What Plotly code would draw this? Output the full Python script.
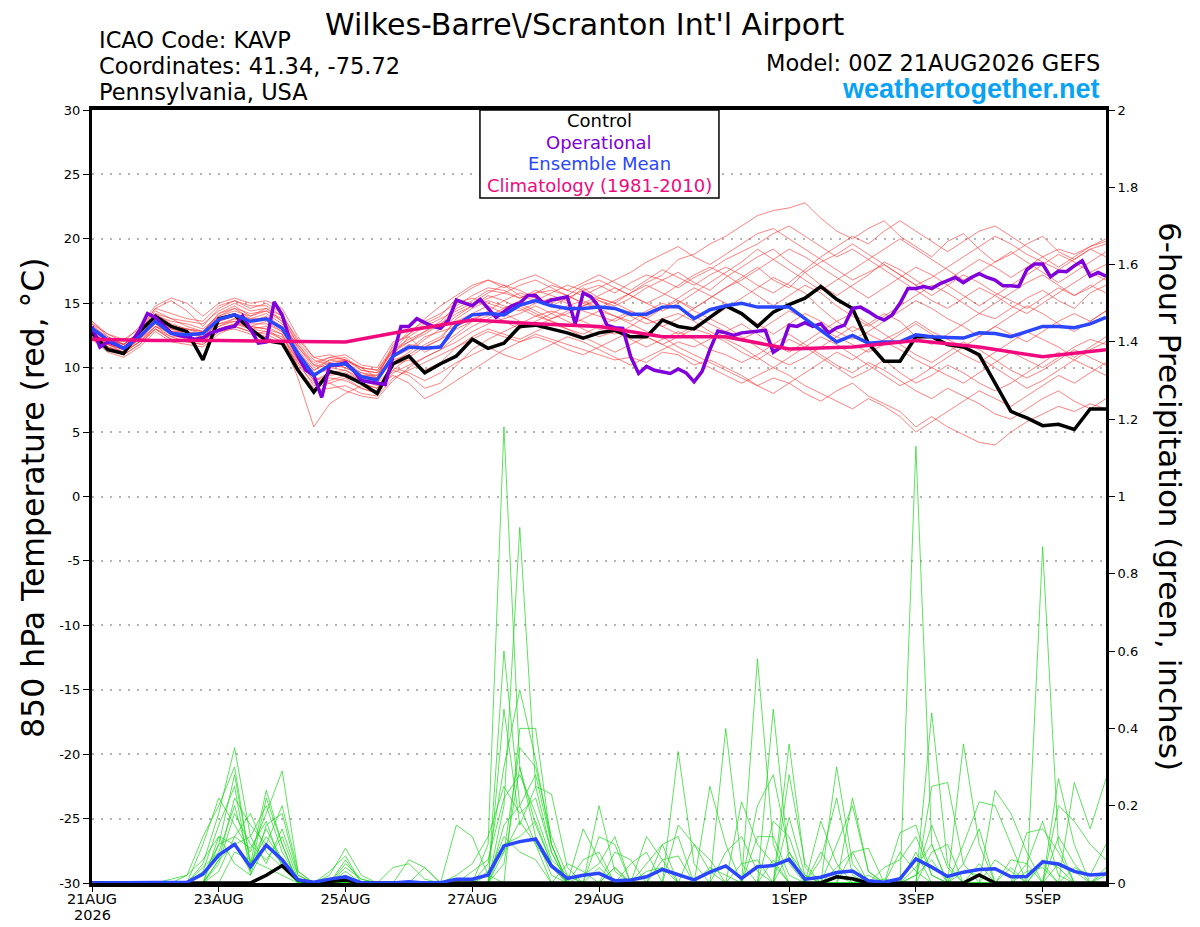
import pandas as pd
import plotly.graph_objects as go

# time axes of the GEFS run (00Z 21AUG2026, 384 h)
times_6h = pd.date_range("2026-08-21 00:00", periods=65, freq="6h")
times_3h = pd.date_range("2026-08-21 00:00", periods=129, freq="3h")
clim_days = pd.date_range("2026-08-21", periods=17, freq="D")

x_tick_dates = ["2026-08-21", "2026-08-23", "2026-08-25", "2026-08-27",
                "2026-08-29", "2026-09-01", "2026-09-03", "2026-09-05"]
x_tick_labels = ["21AUG", "23AUG", "25AUG", "27AUG",
                 "29AUG", "1SEP", "3SEP", "5SEP"]
temp_ticks = [-30, -25, -20, -15, -10, -5, 0, 5, 10, 15, 20, 25, 30]
precip_ticks = [0, 0.2, 0.4, 0.6, 0.8, 1, 1.2, 1.4, 1.6, 1.8, 2]

# 850 hPa temperature (C)
control_temp = [12.7, 11.4, 11.1, 12.8, 14.0, 13.2, 12.8, 10.6, 13.8, 14.1, 13.0, 12.1, 11.9,
                9.8, 8.1, 9.7, 9.4, 8.8, 8.0, 10.3, 10.9,
                9.6, 10.3, 10.9, 12.2, 11.5, 11.9, 13.2, 13.3, 13.0, 12.7, 12.3, 12.7, 12.9,
                12.4, 12.4, 13.7, 13.2, 13.0, 13.9, 14.8, 14.2, 13.2,
                14.3, 14.9, 15.4, 16.3, 15.3, 14.6, 11.9, 10.5, 10.5, 12.4, 12.4, 11.8,
                11.6, 11.0, 8.8, 6.6, 6.1, 5.5, 5.6, 5.2, 6.8, 6.8]

mean_temp = [13.05, 12.15, 11.5, 12.4, 13.6, 12.65, 12.55, 12.65, 13.75, 14.1, 13.6, 13.8, 13.05,
             11.1, 9.4, 10.2, 10.3, 9.3, 9.05, 10.9, 11.6, 11.5,
             11.6, 13.3, 14.1, 14.2, 14.1, 14.85, 15.2, 14.8, 14.6, 14.6, 14.7, 14.6, 14.15,
             14.15, 14.7, 14.75, 13.8, 14.5, 14.8, 15.0, 14.7,
             14.7, 14.7, 13.8, 12.9, 12.0, 12.5, 11.9, 12.0, 12.0, 12.55, 12.4, 12.35,
             12.3, 12.7, 12.65, 12.4, 12.8, 13.2, 13.2, 13.1, 13.4, 13.9]

# operational run has 3-hourly output
oper_temp = [13.2, 11.6, 12.0, 11.8, 11.5, 12.0, 12.9, 14.2, 13.9, 13.3,
             12.7, 12.5, 12.4, 12.2, 12.3, 12.7, 12.9, 13.1, 13.2, 14.0,
             13.0, 11.9, 12.0, 15.1, 14.1, 12.1, 10.9, 9.8, 9.4, 7.7,
             10.2, 10.2, 10.4, 9.8, 9.0, 8.9, 8.8, 8.7, 10.9, 13.2,
             13.2, 13.8, 13.5,
             13.2, 13.05, 13.7, 15.25, 15.0, 14.8, 15.3, 14.6, 13.9, 14.35,
             14.8, 15.0, 15.6, 15.6, 15.0, 15.25, 15.4, 15.5, 13.4, 15.8,
             15.5, 14.7, 13.3, 13.1, 13.05, 10.85, 9.55, 10.1, 9.8, 9.7,
             9.55, 9.9, 9.6, 8.9, 9.7, 11.4, 12.85, 12.7, 12.5, 12.7,
             12.75, 12.85, 12.9,
             11.2, 11.6, 13.3, 13.2, 13.5, 13.2, 13.4, 12.7, 13.1, 13.3,
             14.6, 14.7, 14.35, 13.95, 13.7, 14.1, 15.0, 16.15, 16.15, 16.3,
             16.15, 16.5, 16.75, 17.0, 16.6, 17.0, 17.3, 17.0, 16.8, 16.35,
             16.35, 16.3, 17.6, 18.05, 18.05, 17.05, 17.5, 17.45, 17.9, 18.3,
             17.1, 17.4, 17.1]

clim_temp = [12.2, 12.1, 12.1, 12.05, 12.0, 12.9, 13.7, 13.4, 13.2, 12.4, 12.4,
             11.45, 11.6, 12.1, 11.6, 10.85, 11.4]

# ensemble members, 850 hPa temperature
ens_t01 = [13.2, 12.0, 11.6, 12.6, 14.2, 13.4, 13.0, 12.8, 14.2, 14.8, 14.0, 14.4, 13.6,
           11.4, 9.8, 10.6, 10.8, 9.8, 9.6, 11.4, 12.2, 12.8, 13.4, 14.6, 15.2,
           16.0, 15.8, 15.4, 16.0, 15.6, 15.2, 16.2, 15.4, 15.0, 15.8, 16.6, 17.2, 18.4, 18.8, 19.6, 20.2,
           21.0, 21.8, 22.2, 22.4, 22.8, 21.6, 20.6, 20.0, 20.8, 21.4, 20.2, 19.4,
           18.6, 19.8, 20.4, 19.2, 18.2, 18.8, 19.6, 20.2, 19.0, 18.4, 19.2, 19.6]
ens_t02 = [12.4, 11.4, 11.0, 11.8, 13.0, 12.2, 12.2, 12.0, 13.2, 13.6, 13.0, 13.2, 12.6,
           10.0, 8.4, 8.8, 9.2, 8.4, 8.0, 10.2, 10.6, 9.8, 10.4, 11.6, 12.2,
           12.8, 12.4, 12.0, 12.6, 12.2, 11.8, 11.4, 11.0, 10.6, 10.8, 10.4, 11.2, 11.0, 10.2, 10.6, 10.0,
           9.4, 8.6, 9.2, 8.8, 8.0, 7.4, 8.2, 8.8, 7.8, 7.2, 6.6, 5.4,
           6.2, 5.4, 4.8, 4.2, 4.0, 5.0, 5.8, 6.4, 7.0, 6.6, 7.2, 6.8]
ens_t03 = [12.8, 11.8, 11.4, 12.2, 13.6, 13.0, 12.6, 12.4, 13.4, 13.8, 13.2, 13.0, 12.2,
           9.2, 5.4, 7.2, 8.0, 8.6, 8.2, 9.8, 9.4, 8.4, 8.8, 10.2, 11.4,
           12.2, 12.8, 13.4, 14.0, 14.4, 14.0, 13.6, 13.0, 12.6, 13.2, 14.0, 14.6, 15.2, 14.4, 13.8, 14.6,
           15.4, 16.2, 17.0, 16.4, 15.8, 14.6, 13.6, 12.8, 13.4, 14.2, 13.6, 12.4,
           11.8, 12.6, 13.4, 14.2, 13.8, 14.6, 15.4, 16.0, 15.2, 14.6, 15.8, 16.4]
ens_t04 = [13.6, 12.4, 11.8, 12.8, 14.6, 15.2, 14.4, 13.2, 14.6, 15.2, 14.6, 15.0, 14.2,
           12.0, 10.6, 10.2, 10.0, 9.4, 9.2, 11.8, 12.6, 13.4, 14.0, 15.4, 16.2,
           16.8, 16.4, 15.6, 15.2, 15.8, 16.4, 16.0, 15.2, 14.8, 15.4, 16.2, 16.8, 17.4, 16.6, 16.0, 17.0,
           17.8, 18.6, 19.2, 18.2, 17.4, 16.4, 15.6, 16.4, 17.2, 18.2, 17.6, 16.8,
           16.0, 16.8, 17.6, 18.4, 17.8, 17.0, 17.8, 18.6, 19.2, 18.8, 19.4, 19.8]
ens_t05 = [12.6, 11.6, 11.2, 12.0, 13.2, 12.4, 12.4, 12.2, 13.0, 13.4, 13.2, 13.6, 12.8,
           10.6, 9.0, 9.6, 9.8, 9.0, 8.6, 9.4, 8.8, 7.6, 8.2, 9.0, 9.8,
           10.6, 11.4, 12.0, 12.4, 12.0, 11.4, 11.0, 11.6, 12.2, 12.8, 12.4, 11.8, 12.4, 13.0, 12.6, 12.0,
           11.2, 10.6, 11.4, 12.2, 11.6, 10.8, 10.0, 9.2, 9.8, 10.6, 9.6, 8.8,
           9.4, 10.2, 9.6, 8.8, 8.2, 8.8, 9.6, 10.4, 11.2, 10.6, 11.4, 12.0]
ens_t06 = [13.0, 12.2, 11.8, 12.6, 13.8, 13.0, 12.8, 12.6, 13.8, 14.2, 13.8, 14.2, 13.4,
           11.6, 10.0, 10.6, 10.4, 9.6, 9.4, 11.0, 11.8, 11.6, 12.2, 13.8, 14.6,
           15.2, 14.8, 14.4, 15.0, 15.4, 15.0, 14.4, 14.0, 13.6, 14.2, 13.8, 13.2, 13.8, 14.6, 15.4, 16.2,
           17.0, 17.8, 16.8, 16.2, 17.4, 18.2, 18.8, 19.6, 18.8, 18.0, 17.2, 16.4,
           17.0, 17.8, 18.6, 19.4, 20.2, 19.6, 18.8, 18.2, 17.6, 18.4, 19.2, 18.6]
ens_t07 = [12.2, 11.2, 10.8, 11.6, 12.8, 12.0, 11.8, 11.6, 12.6, 13.2, 12.8, 12.6, 12.0,
           10.4, 9.2, 8.8, 8.2, 7.8, 7.6, 9.0, 10.0, 10.8, 11.4, 12.0, 12.8,
           13.4, 13.8, 14.2, 14.8, 14.2, 13.6, 13.0, 12.4, 12.8, 12.2, 11.6, 12.2, 12.8, 12.2, 11.4, 11.0,
           10.4, 11.0, 11.8, 12.6, 11.8, 11.0, 10.2, 9.6, 10.4, 9.8, 9.0, 8.2,
           7.6, 8.4, 7.8, 7.2, 6.4, 6.0, 6.8, 7.6, 8.2, 7.4, 6.8, 7.6]
ens_t08 = [13.4, 12.6, 12.0, 13.2, 14.8, 15.4, 15.0, 14.0, 15.0, 15.4, 15.0, 15.2, 14.6,
           12.4, 10.8, 11.0, 10.6, 10.0, 9.8, 11.6, 12.8, 13.6, 14.2, 15.0, 15.4,
           15.0, 14.6, 15.2, 15.8, 16.0, 15.6, 15.0, 15.6, 16.2, 15.6, 15.0, 15.6, 16.4, 17.2, 17.8, 17.2,
           16.4, 15.6, 14.8, 15.6, 16.4, 15.8, 14.8, 14.0, 13.2, 14.0, 14.8, 15.6,
           16.4, 15.8, 15.0, 14.2, 15.0, 15.8, 16.6, 17.2, 16.4, 15.6, 16.2, 17.0]
ens_t09 = [12.8, 12.0, 11.6, 12.4, 13.4, 12.8, 12.6, 12.4, 13.6, 14.0, 13.4, 13.4, 12.8,
           11.0, 9.6, 9.8, 9.4, 8.8, 8.4, 10.4, 11.2, 12.2, 13.0, 14.0, 14.8,
           15.6, 15.2, 14.6, 14.0, 13.6, 13.2, 13.8, 14.4, 14.0, 13.4, 12.8, 12.4, 11.6, 11.0, 10.4, 9.8,
           9.2, 8.6, 8.0, 8.8, 9.6, 10.4, 11.2, 10.6, 11.4, 12.2, 12.8, 13.6,
           12.8, 12.2, 11.6, 12.4, 13.2, 12.6, 12.0, 12.8, 13.6, 14.2, 13.6, 14.4]
ens_t10 = [13.2, 12.4, 11.8, 12.8, 14.0, 13.6, 13.4, 13.0, 14.0, 14.6, 14.2, 14.4, 13.8,
           11.8, 10.4, 10.8, 11.0, 10.2, 10.0, 12.0, 12.4, 11.2, 11.8, 12.6, 13.6,
           14.4, 15.2, 15.8, 15.4, 14.8, 15.4, 16.0, 16.4, 15.8, 16.6, 17.2, 16.8, 16.2, 17.0, 17.6, 18.4,
           19.0, 19.6, 20.4, 21.0, 20.2, 19.4, 18.6, 19.2, 18.4, 17.6, 16.8, 16.0,
           15.2, 14.6, 15.4, 16.2, 15.6, 14.8, 14.2, 15.0, 15.8, 16.6, 17.4, 18.0]
ens_t11 = [12.6, 11.8, 11.2, 12.2, 13.4, 12.6, 12.2, 12.0, 13.2, 13.8, 13.6, 14.0, 13.2,
           10.8, 9.4, 10.2, 10.6, 10.0, 9.2, 10.8, 11.4, 12.4, 12.8, 13.2, 13.8,
           14.2, 13.6, 13.0, 13.6, 14.2, 14.8, 15.2, 14.6, 14.0, 13.6, 14.4, 15.0, 14.6, 14.0, 13.4, 12.8,
           12.2, 12.8, 13.6, 14.4, 13.8, 13.0, 12.4, 11.8, 11.2, 11.8, 12.6, 13.4,
           12.6, 11.8, 11.0, 10.4, 11.2, 12.0, 12.8, 12.2, 11.6, 10.8, 11.6, 12.4]
ens_t12 = [13.0, 12.0, 11.6, 12.4, 14.0, 13.2, 13.0, 12.8, 14.2, 14.6, 13.8, 13.8, 13.0,
           11.2, 9.8, 10.4, 10.6, 9.8, 9.6, 11.2, 12.0, 12.8, 13.6, 14.8, 15.6,
           16.2, 16.0, 15.4, 15.8, 16.4, 16.0, 15.6, 16.2, 16.8, 17.4, 18.2, 18.8, 19.4, 18.6, 18.0, 18.8,
           19.6, 20.4, 20.8, 20.0, 19.2, 18.4, 17.6, 16.8, 17.4, 18.0, 17.2, 16.4,
           15.6, 16.4, 17.2, 16.6, 15.8, 15.2, 14.6, 15.4, 16.2, 15.6, 16.4, 15.8]
ens_t13 = [12.4, 11.6, 11.2, 12.0, 13.2, 12.6, 12.4, 12.0, 13.0, 13.4, 13.0, 12.8, 12.2,
           10.2, 8.8, 9.2, 9.0, 8.4, 8.0, 9.6, 10.2, 10.8, 11.4, 12.4, 13.2,
           13.8, 14.4, 14.8, 14.2, 13.6, 13.0, 12.4, 11.8, 11.2, 11.8, 12.4, 11.8, 11.2, 10.6, 10.0, 9.4,
           8.8, 9.4, 10.0, 9.4, 8.6, 8.0, 7.4, 6.8, 7.6, 7.0, 6.2, 5.0,
           5.8, 6.6, 7.4, 8.2, 7.6, 7.0, 7.8, 8.6, 9.4, 8.8, 9.6, 10.4]
ens_t14 = [13.4, 12.2, 11.8, 12.8, 14.4, 13.8, 13.6, 13.4, 14.4, 15.0, 14.4, 14.6, 13.6,
           11.6, 10.2, 10.0, 9.8, 9.2, 9.0, 10.6, 11.0, 11.8, 12.4, 13.6, 14.2,
           14.8, 14.2, 13.6, 13.2, 13.8, 14.4, 14.8, 15.4, 15.0, 14.4, 13.8, 14.6, 15.4, 16.2, 15.6, 15.0,
           14.2, 13.4, 12.6, 13.4, 14.2, 13.6, 12.8, 12.2, 12.8, 13.6, 14.4, 15.2,
           14.6, 13.8, 13.2, 12.4, 13.2, 14.0, 14.8, 14.2, 13.4, 12.8, 13.6, 14.4]
ens_t15 = [12.8, 11.8, 11.4, 12.2, 13.6, 13.2, 13.0, 12.6, 13.6, 14.0, 13.6, 13.8, 13.2,
           10.8, 9.4, 10.0, 10.2, 9.6, 9.2, 11.0, 12.4, 13.2, 13.8, 14.4, 15.0,
           15.8, 16.4, 16.0, 15.4, 15.0, 15.6, 16.4, 16.8, 16.2, 15.6, 15.0, 14.4, 15.0, 15.8, 16.6, 17.4,
           18.2, 19.2, 18.4, 17.6, 16.8, 16.0, 16.8, 17.6, 18.4, 19.2, 20.0, 19.2,
           18.4, 17.6, 16.8, 17.4, 18.2, 19.0, 18.2, 17.4, 16.6, 17.4, 18.2, 19.0]
ens_t16 = [12.2, 11.4, 11.0, 11.8, 13.0, 12.4, 12.0, 11.8, 12.8, 13.2, 12.8, 12.4, 11.8,
           9.8, 8.2, 8.4, 8.6, 8.0, 7.8, 9.2, 9.8, 10.4, 11.0, 11.6, 12.4,
           13.0, 12.6, 12.2, 12.8, 13.4, 13.0, 12.6, 13.2, 13.8, 14.4, 13.8, 13.2, 12.6, 13.2, 13.8, 13.2,
           12.4, 11.6, 10.8, 10.2, 10.8, 11.6, 12.4, 13.2, 12.6, 12.0, 11.4, 10.6,
           10.0, 9.4, 8.8, 9.6, 10.4, 11.2, 10.6, 10.0, 10.8, 11.6, 12.2, 11.8]
ens_t17 = [13.0, 12.2, 11.8, 12.6, 14.2, 13.8, 13.2, 12.8, 14.0, 14.4, 14.0, 14.6, 14.0,
           12.2, 10.8, 10.4, 10.0, 9.4, 9.4, 11.4, 12.6, 13.8, 14.8, 15.6, 16.4,
           16.8, 16.2, 16.8, 17.2, 16.6, 16.0, 16.6, 17.2, 16.6, 16.0, 16.8, 17.6, 17.0, 16.4, 17.2, 17.8,
           17.2, 16.4, 15.8, 16.6, 17.6, 18.6, 19.4, 20.2, 19.6, 20.6, 21.4, 20.6,
           19.8, 19.0, 19.8, 20.6, 21.0, 20.2, 19.4, 18.6, 17.8, 18.6, 19.4, 20.0]
ens_t18 = [12.6, 11.6, 11.2, 12.0, 13.0, 12.2, 12.0, 11.8, 12.8, 13.0, 12.6, 12.8, 12.4,
           10.6, 9.0, 9.4, 9.6, 9.0, 8.8, 10.0, 9.6, 9.0, 9.6, 10.4, 11.0,
           11.6, 11.0, 10.6, 11.2, 11.8, 12.4, 12.0, 11.4, 10.8, 10.2, 10.8, 11.4, 12.0, 11.6, 12.2, 12.8,
           13.4, 12.6, 11.8, 11.2, 12.0, 12.8, 13.6, 14.2, 13.4, 12.6, 11.8, 11.0,
           10.4, 11.2, 12.0, 11.4, 10.6, 9.8, 9.2, 9.8, 10.6, 11.4, 10.8, 10.2]
ens_t19 = [13.6, 12.6, 12.2, 13.0, 14.6, 14.2, 13.8, 13.6, 14.8, 15.2, 14.8, 14.8, 14.0,
           11.8, 10.2, 10.8, 10.6, 10.0, 9.8, 11.4, 12.0, 12.6, 13.4, 14.2, 14.8,
           15.4, 15.8, 16.4, 16.8, 16.2, 15.6, 15.0, 14.6, 15.2, 15.8, 16.4, 15.8, 15.2, 14.6, 15.4, 16.2,
           16.8, 17.6, 18.4, 19.2, 18.6, 17.8, 17.0, 16.2, 15.4, 16.2, 17.0, 17.8,
           17.2, 16.4, 15.6, 14.8, 15.6, 16.4, 17.2, 18.0, 18.8, 18.2, 17.4, 16.8]
ens_t20 = [12.4, 11.8, 11.4, 12.2, 13.2, 12.8, 12.8, 12.4, 13.4, 13.6, 13.2, 13.0, 12.6,
           10.4, 8.6, 9.0, 9.4, 8.8, 8.4, 9.8, 10.8, 11.6, 12.2, 13.0, 13.6,
           14.0, 14.6, 15.0, 14.4, 13.8, 14.2, 14.8, 15.2, 14.6, 14.0, 13.4, 13.8, 14.2, 13.6, 12.8, 12.2,
           11.6, 10.8, 10.0, 10.8, 11.6, 12.4, 11.8, 11.0, 10.2, 9.4, 8.6, 9.2,
           10.0, 10.8, 11.6, 10.8, 10.0, 9.2, 8.4, 9.0, 9.8, 10.6, 10.0, 9.4]

# 6-hour precipitation (inches)
control_precip = [0, 0, 0, 0, 0, 0, 0, 0, 0, 0, 0, 0.02, 0.045, 0.008, 0, 0.004, 0.008,
                  0, 0, 0, 0, 0, 0, 0, 0, 0, 0, 0, 0, 0, 0, 0, 0, 0, 0, 0, 0, 0, 0, 0,
                  0, 0, 0, 0, 0, 0, 0, 0.016, 0.011, 0, 0, 0, 0, 0, 0, 0, 0.021,
                  0, 0, 0, 0, 0, 0, 0, 0]
mean_precip = [0, 0, 0, 0, 0, 0, 0.002, 0.023, 0.072, 0.10, 0.042, 0.098, 0.06, 0.008,
               0.002, 0.01, 0.016, 0, 0, 0, 0.003, 0, 0.001, 0.01, 0.01, 0.021, 0.096,
               0.107, 0.114, 0.044, 0.012, 0.02, 0.025, 0.006, 0.008, 0.016, 0.035, 0.021,
               0.008, 0.028, 0.044, 0.012, 0.042, 0.045, 0.061, 0.01, 0.015, 0.027, 0.031,
               0.006, 0.002, 0.011, 0.062, 0.041, 0.017, 0.028, 0.035, 0.037, 0.016,
               0.017, 0.055, 0.049, 0.03, 0.021, 0.023]

# ensemble members, precipitation (one row per day, 00/06/12/18Z)
ens_p01 = [0, 0, 0, 0,  0, 0, 0, .05,  .18, .35, .12, .20,  .08, .01, 0, 0,
           .06, 0, 0, 0,  0, 0, 0, 0,  0, .10, 1.18, .30,  .15, .05, 0, 0,
           0, .04, 0, 0,  0, 0, 0, 0,  0, 0, .58, .10,  0, 0, 0, 0,
           0, 0, 0, 0,  .08, 0, 0, 0,  0, 0, 0, 0,  .05, 0, 0, 0,  0]
ens_p02 = [0, 0, 0, 0,  0, 0, 0, 0,  .10, .28, .05, .24,  .10, 0, 0, .02,
           .09, .02, 0, 0,  0, 0, 0, 0,  0, 0, .20, .92,  .25, .08, 0, 0,
           .20, .03, 0, 0,  0, 0, 0, 0,  0, 0, 0, .45,  .05, 0, 0, .30,
           .05, 0, 0, 0,  1.13, .10, 0, 0,  .05, 0, 0, 0,  0, .27, .10, 0,  0]
ens_p03 = [0, 0, 0, 0,  0, 0, 0, .10,  .22, .15, .08, .18,  .29, .03, 0, 0,
           0, 0, 0, 0,  .06, .04, 0, .15,  .12, .02, 0, .40,  .40, .10, 0, 0,
           0, 0, 0, 0,  0, .34, .05, 0,  0, 0, 0, 0,  .36, .04, 0, 0,
           0, 0, 0, 0,  0, .44, .05, 0,  0, 0, 0, 0,  .87, .10, 0, 0,  0]
ens_p04 = [0, 0, 0, 0,  0, 0, .02, .12,  .20, .30, .05, .12,  .06, 0, 0, 0,
           .03, 0, 0, 0,  0, 0, 0, 0,  0, 0, .45, .15,  .25, .23, .04, 0,
           0, 0, 0, .12,  .06, 0, 0, 0,  .40, .05, 0, 0,  0, 0, 0, 0,
           .22, .03, 0, 0,  0, 0, 0, .36,  .10, 0, 0, 0,  0, 0, .26, .14,  .27]
ens_p05 = [0, 0, 0, 0,  0, 0, 0, 0,  .06, .22, .15, .10,  .05, 0, 0, 0,
           .05, .01, 0, 0,  0, 0, 0, 0,  0, .05, .30, .50,  .32, .10, 0, .14,
           .06, 0, 0, 0,  0, 0, 0, .25,  .10, 0, 0, 0,  .28, .05, 0, 0,
           0, 0, 0, .13,  .15, .02, 0, 0,  0, .24, .18, .08,  0, 0, 0, 0,  .04]
ens_p06 = [0, 0, 0, 0,  0, 0, 0, .03,  .15, .25, .02, .15,  .18, .02, 0, 0,
           0, 0, 0, 0,  0, 0, 0, 0,  0, 0, .60, .20,  .10, 0, 0, 0,
           .12, .10, 0, 0,  .10, .12, 0, 0,  0, .21, .10, .05,  0, 0, .16, .05,
           0, 0, 0, 0,  0, .25, .26, .05,  0, 0, 0, .05,  .16, .02, 0, 0,  0]
ens_p07 = [0, 0, 0, 0,  0, .01, .02, .06,  .12, .10, .03, .22,  .10, 0, 0, 0,
           0, 0, 0, .04,  .05, .01, 0, 0,  0, .03, .08, .35,  .30, .12, .02, 0,
           0, 0, .05, .08,  0, 0, 0, 0,  0, 0, .20, .28,  .08, 0, 0, .10,
           .20, .03, 0, 0,  0, 0, 0, .10,  .21, .20, .10, 0,  0, .12, .05, 0,  0]
ens_p08 = [0, 0, 0, 0,  0, 0, 0, 0,  .05, .18, .10, .06,  .12, .01, 0, 0,
           .02, 0, 0, 0,  0, 0, 0, .02,  .05, .12, .25, .18,  .22, .08, 0, 0,
           0, 0, 0, 0,  0, .15, .10, .03,  0, 0, 0, 0,  .17, .02, 0, 0,
           0, 0, .04, .06,  .12, .02, 0, 0,  0, 0, 0, .13,  .14, .08, 0, 0,  .02]
ens_p09 = [0, 0, 0, 0,  0, 0, 0, .04,  .08, .20, .05, .14,  .06, 0, 0, 0,
           0, 0, 0, 0,  0, 0, 0, 0,  0, 0, .15, .20,  .28, .10, 0, .06,
           .08, 0, 0, .05,  .10, 0, 0, 0,  .08, .12, .03, 0,  0, 0, 0, 0,
           .08, .09, 0, 0,  0, 0, 0, .05,  .14, 0, 0, 0,  0, .20, .16, .10,  .06]
ens_p10 = [0, 0, 0, 0,  0, 0, 0, 0,  .03, .12, .18, .08,  .04, 0, 0, .03,
           .07, 0, 0, 0,  0, 0, 0, 0,  0, 0, .10, .12,  .16, .05, 0, 0,
           0, .08, .06, 0,  0, 0, 0, 0,  0, 0, 0, .16,  .12, 0, .06, .22,
           .02, 0, 0, 0,  .02, .15, .04, 0,  0, 0, .06, .05,  0, 0, 0, 0,  0]
ens_p11 = [0, 0, 0, 0,  0, 0, 0, 0,  .12, .05, .02, .10,  .20, .03, 0, 0,
           0, 0, 0, 0,  0, 0, 0, 0,  .03, .06, .22, .28,  .18, .06, .02, 0,
           .04, 0, 0, 0,  .06, .07, 0, 0,  0, 0, .12, .12,  .02, 0, 0, 0,
           0, 0, .01, 0,  .04, .10, 0, 0,  0, .06, .03, 0,  .06, .04, 0, 0,  0]
ens_p12 = [0, 0, 0, 0,  0, 0, 0, 0,  0, .08, .06, .04,  .02, 0, 0, 0,
           0, 0, 0, 0,  0, 0, 0, 0,  0, 0, .05, .30,  .12, .02, 0, .02,
           .05, .12, 0, 0,  0, 0, .10, .06,  0, 0, 0, 0,  .08, .02, 0, 0,
           0, .02, 0, .08,  .03, 0, 0, .03,  .02, 0, 0, 0,  0, 0, .04, .02,  .10]
ens_p13 = [0, 0, 0, 0,  0, 0, 0, .02,  .10, .12, .09, .16,  .04, 0, 0, 0,
           .04, .01, 0, 0,  0, 0, 0, 0,  0, .02, .12, .08,  .06, 0, .05, .03,
           0, 0, 0, .03,  .04, 0, 0, 0,  0, .05, .06, 0,  0, 0, 0, .04,
           .08, 0, 0, 0,  .02, .06, 0, 0,  0, 0, 0, .03,  .04, 0, 0, 0,  .03]
ens_p14 = [0, 0, 0, 0,  0, 0, 0, 0,  .06, .10, .12, .05,  .14, .02, 0, 0,
           0, 0, 0, 0,  0, .04, 0, 0,  0, 0, .08, .16,  .10, .04, 0, 0,
           0, .04, 0, 0,  0, 0, 0, .04,  .02, 0, 0, .06,  0, 0, .08, .02,
           0, 0, 0, 0,  0, .08, .10, 0,  0, 0, .04, 0,  0, .05, .03, 0,  0]

temp_members = [ens_t01, ens_t02, ens_t03, ens_t04, ens_t05, ens_t06, ens_t07, ens_t08,
                ens_t09, ens_t10, ens_t11, ens_t12, ens_t13, ens_t14, ens_t15, ens_t16,
                ens_t17, ens_t18, ens_t19, ens_t20]
precip_members = [ens_p01, ens_p02, ens_p03, ens_p04, ens_p05, ens_p06, ens_p07,
                  ens_p08, ens_p09, ens_p10, ens_p11, ens_p12, ens_p13, ens_p14]

for series in temp_members + precip_members + [control_temp, mean_temp, control_precip, mean_precip]:
    assert len(series) == len(times_6h), len(series)
assert len(oper_temp) == len(times_3h)

FONT = "DejaVu Sans"
PURPLE = "#8000dc"
BLUE = "#2a46ff"
PINK = "#f00a7e"

fig = go.Figure()

# members first so the main lines sit on top
for member in temp_members:
    fig.add_trace(go.Scatter(x=times_6h, y=member, mode="lines",
                             line=dict(color="rgba(255,45,45,0.75)", width=0.8),
                             hoverinfo="skip"))

for member in precip_members:
    fig.add_trace(go.Scatter(x=times_6h, y=member, mode="lines", yaxis="y2",
                             line=dict(color="rgba(30,215,30,0.9)", width=0.8),
                             hoverinfo="skip"))

fig.add_trace(go.Scatter(x=times_6h, y=control_precip, mode="lines", yaxis="y2",
                         line=dict(color="black", width=3.5)))
fig.add_trace(go.Scatter(x=times_6h, y=mean_precip, mode="lines", yaxis="y2",
                         line=dict(color=BLUE, width=3.5)))

fig.add_trace(go.Scatter(x=times_6h, y=control_temp, mode="lines",
                         line=dict(color="black", width=3.5)))
fig.add_trace(go.Scatter(x=times_3h, y=oper_temp, mode="lines",
                         line=dict(color=PURPLE, width=3.5)))
fig.add_trace(go.Scatter(x=times_6h, y=mean_temp, mode="lines",
                         line=dict(color=BLUE, width=3.5)))
fig.add_trace(go.Scatter(x=clim_days, y=clim_temp, mode="lines",
                         line=dict(color=PINK, width=3.5)))


def note(text, x, y, size, color="black", xanchor="center", angle=0, bold=False, family=FONT):
    fig.add_annotation(text=text, x=x, y=y, xref="paper", yref="paper",
                       xanchor=xanchor, yanchor="middle", showarrow=False,
                       textangle=angle,
                       font=dict(family=family, size=size, color=color,
                                 weight="bold" if bold else "normal"))


note("Wilkes-Barre\\/Scranton Int'l Airport", 0.4862, 1.1112, 30)
note("ICAO Code: KAVP", 0.005, 1.0906, 22.5, xanchor="left")
note("Coordinates: 41.34, -75.72", 0.005, 1.0569, 22.5, xanchor="left")
note("Pennsylvania, USA", 0.005, 1.0233, 22.5, xanchor="left")
note("Model: 00Z 21AUG2026 GEFS", 0.9961, 1.0608, 22.5, xanchor="right")
note("weathertogether.net", 0.9961, 1.0272, 27, color="#0aa2f5", xanchor="right",
     bold=True, family="Liberation Sans")
# year under the first date label
note("2026", 0.0, -0.0414, 14.5)

# legend box
fig.add_shape(type="rect", xref="paper", yref="paper", x0=0.3826, x1=0.6183, y0=0.886, y1=1.0,
              line=dict(color="black", width=1.5), fillcolor="white", layer="above")
note("Control", 0.5, 0.9858, 18)
note("Operational", 0.5, 0.9586, 18, color=PURPLE)
note("Ensemble Mean", 0.5, 0.9314, 18, color=BLUE)
note("Climatology (1981-2010)", 0.5, 0.9017, 18, color=PINK)

note("850 hPa Temperature (red, °C)", -0.0582, 0.4994, 31.5, angle=-90)
note("6-hour Precipitation (green, inches)", 1.0631, 0.4994, 31, angle=90)

# the page body adds an 8px offset, so the figure is drawn 8px smaller on each side
fig.update_layout(
    width=1192, height=919,
    margin=dict(l=84, r=94, t=102, b=44),
    plot_bgcolor="white", paper_bgcolor="white",
    showlegend=False,
    font=dict(family=FONT, color="black"),
    xaxis=dict(range=[times_6h[0], times_6h[-1]], tickvals=x_tick_dates, ticktext=x_tick_labels,
               showgrid=False, zeroline=False, showline=True, linecolor="black", linewidth=4,
               mirror=True, ticks="outside", ticklen=5, tickwidth=1, tickcolor="black",
               ticklabelstandoff=-5,
               tickfont=dict(size=14.5, family=FONT), automargin=False),
    yaxis=dict(range=[-30, 30], tickvals=temp_ticks, ticktext=[str(v) for v in temp_ticks],
               showgrid=True, gridcolor="#b4b4b4", gridwidth=2, griddash="2px,7px",
               zeroline=False, showline=True, linecolor="black", linewidth=3,
               ticks="outside", ticklen=6, tickwidth=1, tickcolor="black",
               tickfont=dict(size=13, family=FONT), automargin=False),
    yaxis2=dict(range=[0, 2], tickvals=precip_ticks, overlaying="y", side="right",
                showgrid=False, zeroline=False, showline=True, linecolor="black", linewidth=3,
                ticks="outside", ticklen=6, tickwidth=1, tickcolor="black",
                tickfont=dict(size=13, family=FONT), automargin=False),
)

fig.write_html("out.html", config={"displayModeBar": False})
